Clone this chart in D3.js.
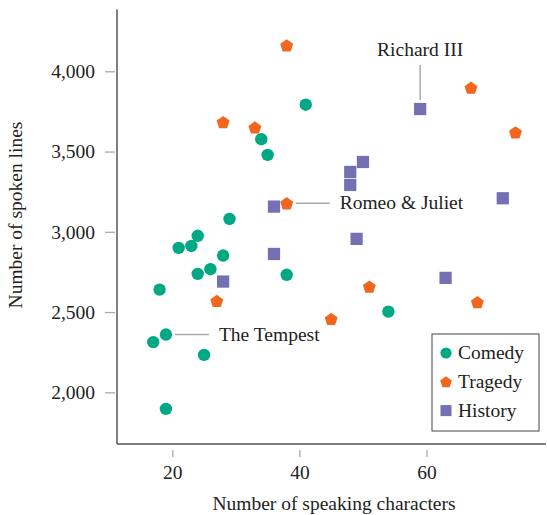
<!DOCTYPE html>
<html>
<head>
<meta charset="utf-8">
<script src="https://cdn.jsdelivr.net/npm/d3@7"></script>
<style>
  body { margin: 0; background: #fff; }
  text { font-family: "Liberation Serif", "DejaVu Serif", serif; fill: #222; }
</style>
</head>
<body>
<script>
// plays: [speaking characters, spoken lines]
var comedy = [[41,3792],[34,3577],[35,3479],[29,3080],[24,2975],[23,2912],[21,2900],[28,2852],
  [26,2767],[24,2738],[38,2732],[18,2640],[54,2503],[19,2360],[17,2313],[25,2233],[19,1897]];
var tragedy = [[38,4162],[67,3898],[28,3684],[33,3651],[74,3620],[38,3178],[51,2659],[27,2570],
  [68,2562],[45,2458]];
var historyPlays = [[59,3765],[50,3435],[48,3373],[48,3292],[72,3209],[36,3157],[49,2956],[36,2862],
  [63,2713],[28,2690]];
var genres = ["Comedy","Tragedy","History"];
var colors = ["#00a884","#f2661e","#7570b3"];
var xTicks = [20,40,60];
var yTicks = [2000,2500,3000,3500,4000];
// labelled plays: name, point, side
var notes = [
  {name:"Richard III", p:[59,3765], side:"top"},
  {name:"Romeo & Juliet", p:[38,3178], side:"right"},
  {name:"The Tempest", p:[19,2360], side:"right"}
];

var fs = "19.5px";
var svg = d3.select("body").append("svg").attr("width",547).attr("height",515);

var x = d3.scaleLinear().domain([11.3,78.8]).range([117,546]);
var y = d3.scaleLinear().domain([1678,4385]).range([444,9.5]);

// axes
var xAxis = svg.append("g").attr("transform","translate(0,450)")
  .call(d3.axisBottom(x).tickValues(xTicks).tickSize(7).tickPadding(8).tickFormat(d3.format("d")));
var yAxis = svg.append("g").attr("transform","translate(115,0)")
  .call(d3.axisLeft(y).tickValues(yTicks).tickSize(10).tickPadding(10).tickFormat(d3.format(",")));
[xAxis,yAxis].forEach(function(a){
  a.select(".domain").remove();
  a.selectAll(".tick line").attr("stroke","#aaa").attr("stroke-width",1.3);
  a.selectAll(".tick text").style("font-family","Liberation Serif, serif").style("font-size",fs).attr("fill","#222");
});
svg.append("line").attr("x1",x.range()[0]).attr("x2",x.range()[1]).attr("y1",y.range()[0]).attr("y2",y.range()[0])
  .attr("stroke","#555").attr("stroke-width",1.5);
svg.append("line").attr("x1",x.range()[0]).attr("x2",x.range()[0]).attr("y1",y.range()[0]).attr("y2",y.range()[1])
  .attr("stroke","#555").attr("stroke-width",1.5);

svg.append("text").attr("x",334).attr("y",510).attr("text-anchor","middle")
  .style("font-size",fs).text("Number of speaking characters");
svg.append("text").attr("transform","translate(22,215) rotate(-90)").attr("text-anchor","middle")
  .style("font-size",fs).text("Number of spoken lines");

// marker shapes
function pentagon(r){
  var pts = d3.range(5).map(function(i){
    var a = -Math.PI/2 + i*2*Math.PI/5;
    return [r*Math.cos(a), r*Math.sin(a)+r*0.1];
  });
  return d3.line()(pts)+"Z";
}
function drawMarker(g, genre, px, py, s){
  if(genre==0) g.append("circle").attr("cx",px).attr("cy",py).attr("r",6.2*s).attr("fill",colors[0]);
  else if(genre==1) g.append("path").attr("d",pentagon(6.8*s)).attr("transform","translate("+px+","+py+")").attr("fill",colors[1]);
  else g.append("path").attr("d",d3.symbol(d3.symbolSquare,150*s*s)()).attr("transform","translate("+px+","+py+")").attr("fill",colors[2]);
}

// annotation leaders
var lab = svg.append("g");
notes.forEach(function(n){
  var px = x(n.p[0]), py = y(n.p[1]);
  if(n.side=="top"){
    lab.append("line").attr("x1",px).attr("x2",px).attr("y1",py-9).attr("y2",py-44).attr("stroke","#aaa").attr("stroke-width",1.5);
    lab.append("text").attr("x",px).attr("y",py-53).attr("text-anchor","middle").style("font-size",fs).text(n.name);
  } else {
    lab.append("line").attr("x1",px+9).attr("x2",px+43).attr("y1",py).attr("y2",py).attr("stroke","#aaa").attr("stroke-width",1.5);
    lab.append("text").attr("x",px+53).attr("y",py+6).style("font-size",fs).text(n.name);
  }
});

var marks = svg.append("g");
[comedy,tragedy,historyPlays].forEach(function(set,gi){
  set.forEach(function(d){ drawMarker(marks, gi, x(d[0]), y(d[1]), 1); });
});

// legend
var leg = svg.append("g");
leg.append("rect").attr("x",432).attr("y",334).attr("width",107).attr("height",97)
  .attr("fill","#fff").attr("stroke","#444").attr("stroke-width",1);
genres.forEach(function(name,i){
  var ly = 353 + i*28.8;
  drawMarker(leg, i, 446, ly, 0.9);
  leg.append("text").attr("x",458).attr("y",ly+6).style("font-size",fs).text(name);
});
</script>
</body>
</html>
